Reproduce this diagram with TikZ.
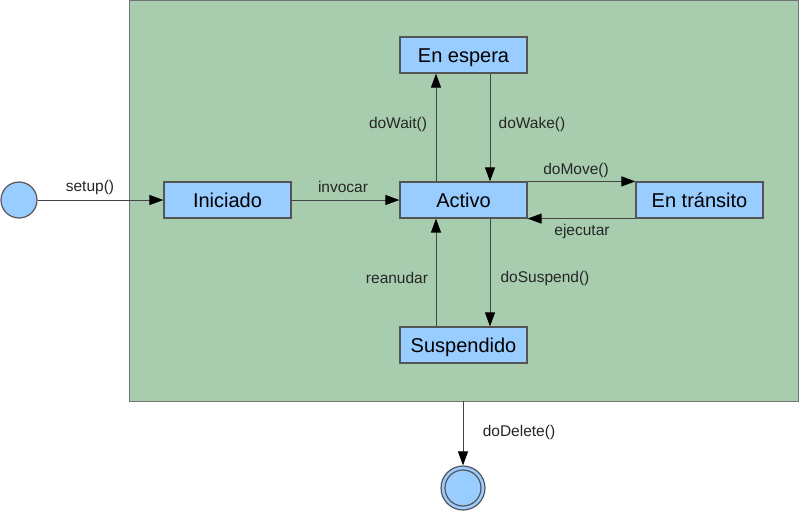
\documentclass[tikz,border=0pt]{standalone}
\usepackage{fontspec}
\setmainfont{Liberation Sans}
\usetikzlibrary{arrows.meta}
\definecolor{bg}{HTML}{A8CDAE}
\definecolor{boxfill}{HTML}{99CCFF}
\definecolor{edge}{HTML}{555555}
\definecolor{wire}{HTML}{444444}
\begin{document}
\begin{tikzpicture}[x=1pt,y=-1pt,
  state/.style={draw=edge,line width=1.2pt,fill=boxfill,minimum width=127pt,minimum height=36pt,inner sep=0pt,text height=15pt,text depth=0pt,font=\fontsize{20}{24}\selectfont},
  lbl/.style={font=\fontsize{15.5}{18}\selectfont,text=black!85,inner sep=0pt},
  tr/.style={draw=wire,line width=1pt,-{Triangle[length=14pt,width=10pt,color=black]}}]
\useasboundingbox (0,0) rectangle (800,517);
\node[draw=black!55,line width=1.5pt,fill=bg,minimum width=669pt,minimum height=401pt,inner sep=0pt,anchor=north west] (frame) at (128.5,-0.5) {};
\node[circle,draw=edge,line width=1.2pt,fill=boxfill,minimum size=36pt,inner sep=0pt] (start) at (19,200) {};
\node[state] (ini) at (227.5,200) {Iniciado};
\node[state] (act) at (463.5,200) {Activo};
\node[state] (esp) at (463.5,55) {En espera};
\node[state] (sus) at (463.5,345) {Suspendido};
\node[state] (tra) at (699.5,200) {En tránsito};
\node[circle,draw=edge,line width=1.2pt,fill=boxfill,minimum size=44pt,inner sep=0pt] (fin) at (463,488) {};
\node[circle,draw=edge,line width=1.2pt,minimum size=36pt,inner sep=0pt] (finin) at (463,488) {};
\coordinate (fb) at (463,401);
\draw[tr] (start) -- (ini);
\draw[tr] (ini) -- (act);
\draw[tr] (act.north -| 436,0) -- (esp.south -| 436,0);
\draw[tr] (esp.south -| 490,0) -- (act.north -| 490,0);
\draw[tr] (sus.north -| 436,0) -- (act.south -| 436,0);
\draw[tr] (act.south -| 490,0) -- (sus.north -| 490,0);
\draw[tr] (act.north east) -- (tra.north west);
\draw[tr] (tra.south west) -- (act.south east);
\draw[tr] (fb) -- (fin);
\node[lbl] (l1) at (90,187) {setup()};
\node[lbl] (l2) at (343,187) {invocar};
\node[lbl] (l3) at (398,124) {doWait()};
\node[lbl] (l4) at (532,124) {doWake()};
\node[lbl] (l5) at (576,170) {doMove()};
\node[lbl] (l6) at (582,231) {ejecutar};
\node[lbl] (l7) at (397,278) {reanudar};
\node[lbl] (l8) at (545,278) {doSuspend()};
\node[lbl] (l9) at (519,432) {doDelete()};
\end{tikzpicture}
\end{document}
